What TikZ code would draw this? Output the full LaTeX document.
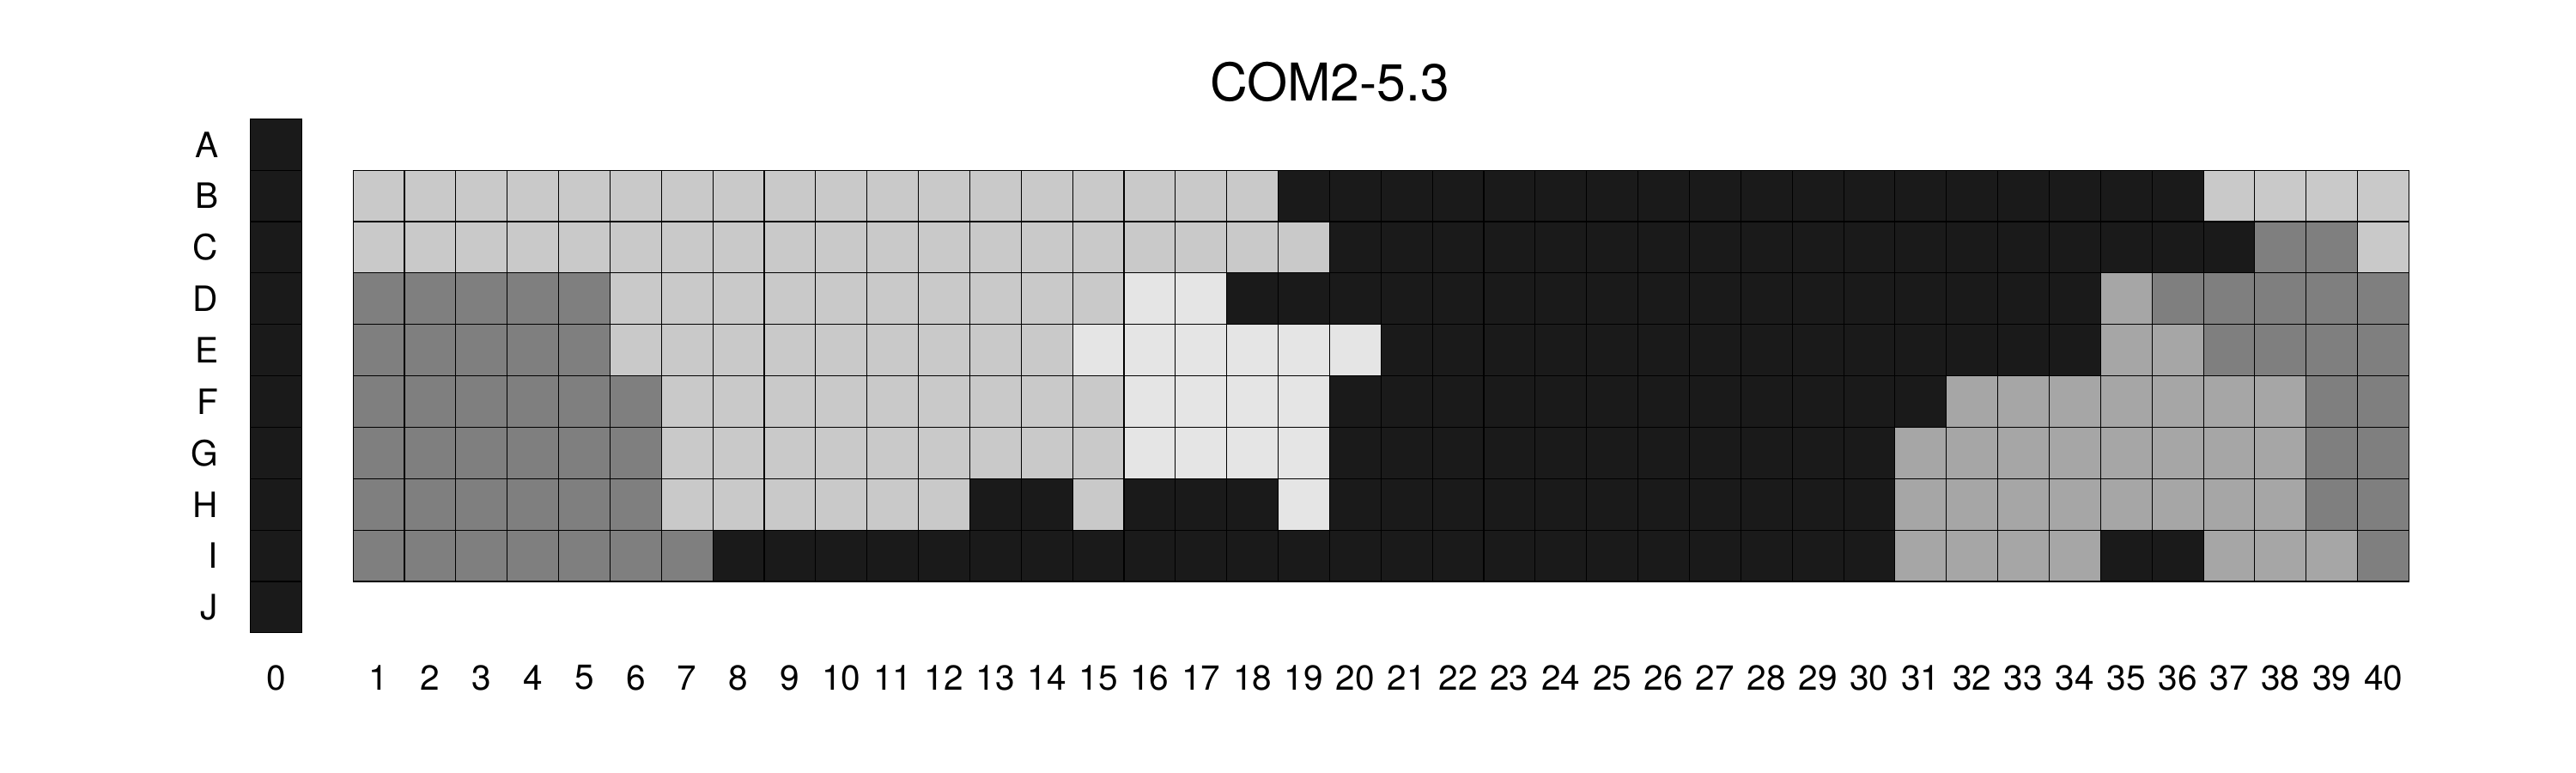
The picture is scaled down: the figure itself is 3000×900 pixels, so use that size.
\documentclass[tikz,border=0pt]{standalone}
\usepackage{fontspec}
\setmainfont{TeX Gyre Heros}
\definecolor{cK}{HTML}{1A1A1A}
\definecolor{cG}{HTML}{7F7F7F}
\definecolor{cM}{HTML}{A6A6A6}
\definecolor{cL}{HTML}{C9C9C9}
\definecolor{cW}{HTML}{E5E5E5}
\newcommand\cs{59.86}
\newcommand\rowspans[2]{%
  \foreach \a/\b/\c in {#2} {%
    \fill[\c] ({351.24+\a*\cs},{138.3+#1*\cs}) rectangle ({351.24+(\b+1)*\cs},{138.3+(#1+1)*\cs});
  }%
}
\begin{document}
\begin{tikzpicture}[x=0.5pt,y=-0.5pt,
  gridline/.style={draw=black,line width=0.55pt},
  lbl/.style={inner sep=0pt,font=\fontsize{20.3}{24}\selectfont},
  ttl/.style={inner sep=0pt,font=\fontsize{30.3}{36}\selectfont}]
\useasboundingbox[fill=white] (0,0) rectangle (3000,900);
% title
\node[ttl] (title) at (1548.5,95.8) {COM2-5.3};
% column 0
\foreach \r in {0,...,9} {
  \fill[cK] (291.7,{138.3+\r*\cs}) rectangle ++(\cs,\cs);
}
\foreach \r in {0,...,9} {
  \draw[gridline] (291.7,{138.3+\r*\cs}) rectangle ++(\cs,\cs);
}
% main grid rows B..I
\rowspans{1}{1/18/cL,19/36/cK,37/40/cL}
\rowspans{2}{1/19/cL,20/37/cK,38/39/cG,40/40/cL}
\rowspans{3}{1/5/cG,6/15/cL,16/17/cW,18/34/cK,35/35/cM,36/40/cG}
\rowspans{4}{1/5/cG,6/14/cL,15/20/cW,21/34/cK,35/36/cM,37/40/cG}
\rowspans{5}{1/6/cG,7/15/cL,16/19/cW,20/31/cK,32/38/cM,39/40/cG}
\rowspans{6}{1/6/cG,7/15/cL,16/19/cW,20/30/cK,31/38/cM,39/40/cG}
\rowspans{7}{1/6/cG,7/12/cL,13/14/cK,15/15/cL,16/18/cK,19/19/cW,20/30/cK,31/38/cM,39/40/cG}
\rowspans{8}{1/7/cG,8/30/cK,31/34/cM,35/36/cK,37/39/cM,40/40/cG}
\foreach \k in {1,...,40} {
  \foreach \r in {1,...,8} {
    \draw[gridline] ({351.24+\k*\cs},{138.3+\r*\cs}) rectangle ++(\cs,\cs);
  }
}
% row labels
\foreach \L [count=\i from 0] in {A,B,C,D,E,F,G,H,I,J} {
  \node[lbl,anchor=east] (row\L) at (254.5,{138.3+(\i+0.5)*\cs}) {\L};
}
% column labels
\node[lbl] (col0) at (321.6,789) {0};
\foreach \k in {1,...,40} {
  \node[lbl] (col\k) at ({351.24+(\k+0.5)*\cs},789) {\k};
}
\end{tikzpicture}
\end{document}
